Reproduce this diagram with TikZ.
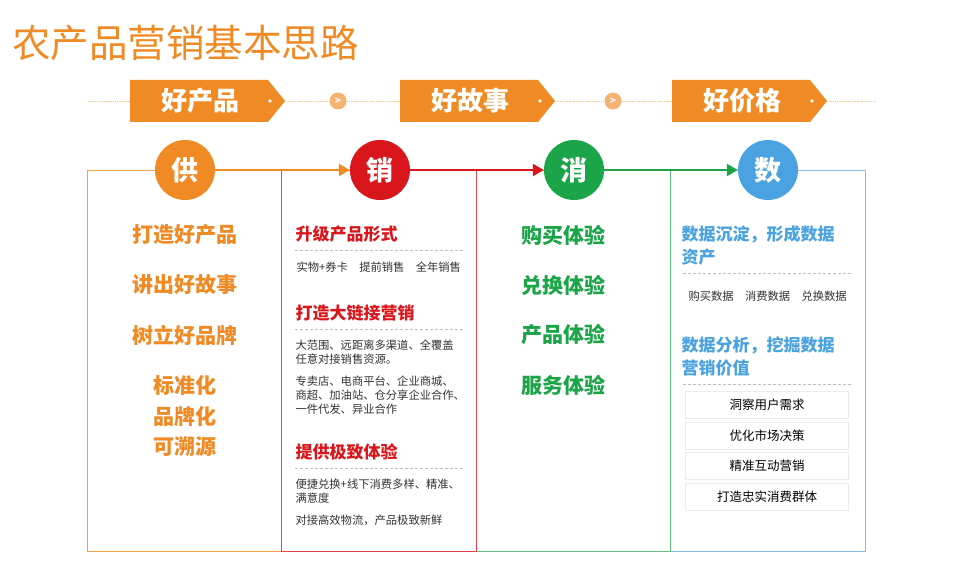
\documentclass[tikz,border=0pt]{standalone}
\usepackage{fontspec}
\setmainfont{Noto Sans CJK SC}
\usetikzlibrary{arrows.meta}
\definecolor{co}{HTML}{F08A24}
\definecolor{cr}{HTML}{D9161C}
\definecolor{cg}{HTML}{1BA548}
\definecolor{cb}{HTML}{4AA3E0}
\tikzset{
 circ/.style={circle,fill=#1,minimum size=60pt,inner sep=0pt,text=white,font=\bfseries\fontsize{27}{27}\selectfont},
 big/.style={text=#1,font=\bfseries\fontsize{21}{21}\selectfont,anchor=center},
 head/.style={text=#1,font=\bfseries\fontsize{17}{17}\selectfont,anchor=west},
 small/.style={font=\fontsize{11.3}{14}\selectfont,anchor=west,align=left,text=black!80},
 dl/.style={densely dashed,gray!50,line width=0.6pt},
 dbox/.style={draw=gray!15,fill=white,minimum width=163pt,minimum height=27pt,font=\fontsize{12.5}{12.5}\selectfont},
}
\begin{document}
\begin{tikzpicture}[x=1pt,y=-1pt]
\useasboundingbox[fill=white] (0,0) rectangle (960,572);
\node[anchor=west,text=co,font=\fontsize{38.5}{38.5}\selectfont,inner sep=0pt] (title) at (12,43) {农产品营销基本思路};
\draw[densely dotted,co!50,line width=0.8pt] (88,101) -- (875,101);
\foreach \x/\t/\n in {130/好产品/b1,400/好故事/b2,672/好价格/b3}{
 \fill[co] (\x,80) -- (\x+138,80) -- (\x+155,101) -- (\x+138,122) -- (\x,122) -- cycle;
 \node[text=white,font=\fontsize{26}{26}\selectfont\bfseries] (\n) at (\x+70,101) {\t};
 \fill[white] (\x+140,101) circle (1.8);
}
\foreach \x/\n in {338/s1,613/s2}{
 \node[circle,fill=co!65,minimum size=17pt,inner sep=0pt,text=white,font=\bfseries\fontsize{10}{10}\selectfont] (\n) at (\x,101) {>};
}
% columns
\draw[co!80,line width=0.8pt] (87,170) rectangle (281,551);
\draw[cb!70,line width=0.8pt] (670,170) rectangle (865,551);
\draw[cg!70,line width=0.8pt] (476,170) rectangle (670,551);
\draw[cr!80,line width=0.8pt] (281,170) rectangle (476,551);
\node[circ=co] (c1) at (185,170) {供};
\node[circ=cr] (c2) at (380,170) {销};
\node[circ=cg] (c3) at (574,170) {消};
\node[circ=cb] (c4) at (768,170) {数};
\draw[co,line width=2.5pt,-{Triangle[length=11pt,width=12pt]}] (c1) -- (c2);
\draw[cr,line width=2.5pt,-{Triangle[length=11pt,width=12pt]}] (c2) -- (c3);
\draw[cg,line width=2.5pt,-{Triangle[length=11pt,width=12pt]}] (c3) -- (c4);
% col1
\foreach \y/\t/\n in {235/打造好产品/a1,285/讲出好故事/a2,335/树立好品牌/a3,385/标准化/a4,416/品牌化/a5,447/可溯源/a6}
 \node[big=co] (\n) at (185,\y) {\t};
% col3
\foreach \y/\t/\n in {235/购买体验/g1,285/兑换体验/g2,335/产品体验/g3,385/服务体验/g4}
 \node[big=cg] (\n) at (563,\y) {\t};
% col2
\node[head=cr] (h1) at (292,234) {升级产品形式};
\draw[dl] (295,250) -- (465,250);
\node[small] (t1) at (293,267) {实物+券卡\quad 提前销售\quad 全年销售};
\node[head=cr] (h2) at (292,313) {打造大链接营销};
\draw[dl] (295,329) -- (465,329);
\node[small] (t2) at (292,352) {大范围、远距离多渠道、全覆盖\\任意对接销售资源。};
\node[small] (t3) at (292,395) {专卖店、电商平台、企业商城、\\商超、加油站、仓分享企业合作、\\一件代发、异业合作};
\node[head=cr] (h3) at (292,452) {提供极致体验};
\draw[dl] (295,468) -- (465,468);
\node[small] (t4) at (292,491) {便捷兑换+线下消费多样、精准、\\满意度};
\node[small] (t5) at (292,520) {对接高效物流，产品极致新鲜};
% col4
\node[head=cb,align=left,font=\bfseries\fontsize{17}{23}\selectfont,anchor=north west] (h4) at (678,222) {数据沉淀，形成数据\\资产};
\draw[dl] (683,273) -- (852,273);
\node[small] (t6) at (685,296) {购买数据\quad 消费数据\quad 兑换数据};
\node[head=cb,align=left,font=\bfseries\fontsize{17}{23}\selectfont,anchor=north west] (h5) at (678,333) {数据分析，挖掘数据\\营销价值};
\draw[dl] (683,384) -- (852,384);
\foreach \y/\t/\n in {405/洞察用户需求/d1,436/优化市场决策/d2,466/精准互动营销/d3,497/打造忠实消费群体/d4}
 \node[dbox] (\n) at (767,\y) {\t};
\end{tikzpicture}
\end{document}
